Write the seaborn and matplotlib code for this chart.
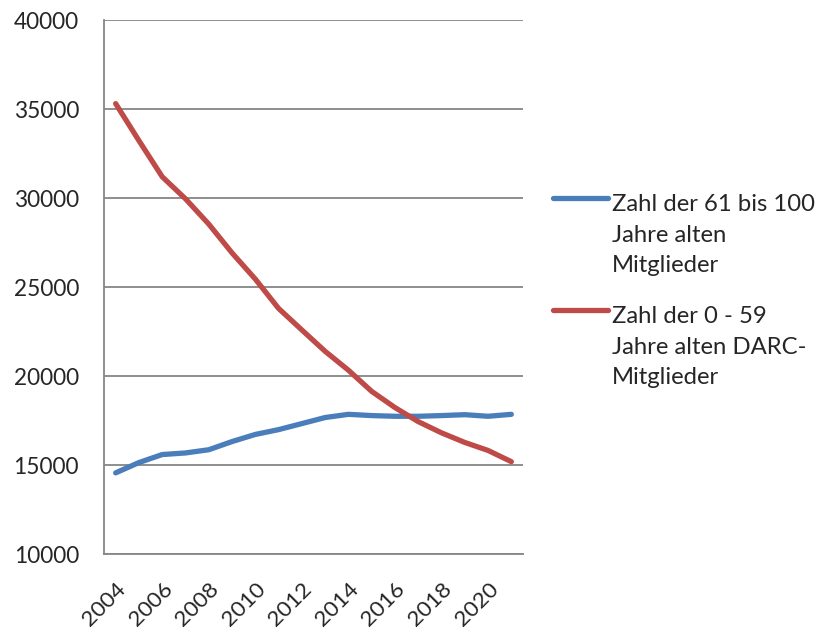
import numpy as np
import pandas as pd
import matplotlib
matplotlib.use("Agg")
import matplotlib.pyplot as plt
import seaborn as sns
from matplotlib.lines import Line2D

sns.set_style("white")
plt.rcParams['font.family'] = ['Lato', 'DejaVu Sans']

years = list(range(2004, 2022))
older = [14560, 15140, 15590, 15680, 15860, 16320, 16720, 16990, 17330, 17670,
         17850, 17780, 17740, 17740, 17780, 17830, 17740, 17850]
younger = [35310, 33230, 31200, 29960, 28540, 26920, 25450, 23800, 22590, 21390,
           20330, 19140, 18230, 17440, 16810, 16270, 15820, 15190]
label_older = "Zahl der 61 bis 100\nJahre alten\nMitglieder"
label_younger = "Zahl der 0 - 59\nJahre alten DARC-\nMitglieder"

df = pd.DataFrame({
    'Jahr': years * 2,
    'Mitglieder': older + younger,
    'Gruppe': [label_older] * len(years) + [label_younger] * len(years),
})
colors = {label_older: '#4A7EBB', label_younger: '#BE4B48'}
gray = '#868686'

fig = plt.figure(figsize=(8.21, 6.3), dpi=100)
ax = fig.add_axes([0.1267, 0.1206, 0.5103, 0.8474])

sns.lineplot(data=df, x='Jahr', y='Mitglieder', hue='Gruppe', palette=colors,
             linewidth=3.8, ax=ax, legend=False, solid_capstyle='round')

ax.set_xlim(2003.5, 2021.5)
ax.set_ylim(10000, 40000)
ax.set_yticks(range(10000, 40001, 5000))
ax.set_xticks(years[::2])
ax.set_xticks(np.arange(2003.5, 2022, 1), minor=True)
ax.set_xticklabels([str(y) for y in years[::2]], rotation=45, ha='right',
                   rotation_mode='anchor', va='top')
ax.tick_params(axis='x', which='major', length=0, pad=18, labelsize=16.2)
ax.tick_params(axis='x', which='minor', length=8, width=1.3, color=gray, direction='out')
ax.tick_params(axis='y', length=7, width=1.3, color=gray, direction='out', labelsize=16.3, pad=11)
ax.set_xlabel('')
ax.set_ylabel('')
ax.grid(axis='y', color=gray, linewidth=1.3)
ax.grid(axis='x', visible=False)
for s in ['top', 'right']:
    ax.spines[s].set_visible(False)
for s in ['left', 'bottom']:
    ax.spines[s].set_color(gray)
    ax.spines[s].set_linewidth(1.3)
ax.set_axisbelow(True)

# legend drawn beside the plot, handle aligned with first text line
entries = [(label_older, 198, 272), (label_younger, 310, 384)]
for lab, yh, yb in entries:
    fig.add_artist(Line2D([553 / 821, 608 / 821], [1 - yh / 630, 1 - yh / 630],
                          color=colors[lab], linewidth=3.8, solid_capstyle='round'))
    fig.text(612 / 821, 1 - yb / 630, lab, fontsize=17.2, va='baseline', ha='left',
             linespacing=1.55, transform=fig.transFigure)

fig.savefig('out.png', dpi=100)
